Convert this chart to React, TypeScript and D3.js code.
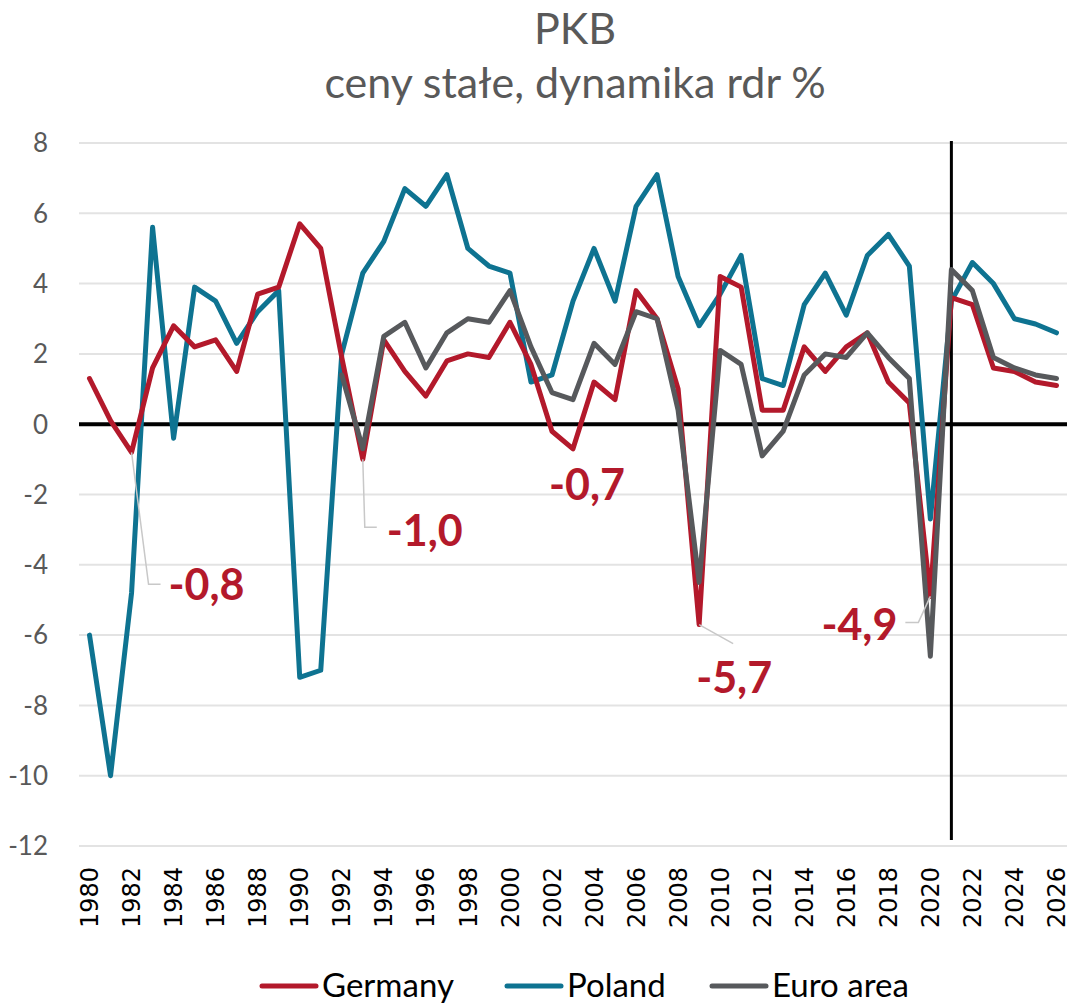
import React from "react";
import * as d3 from "d3";

const years: number[] = d3.range(1980, 2027);

const germany: number[] = [
  1.3, 0.1, -0.8, 1.6, 2.8, 2.2, 2.4, 1.5, 3.7, 3.9,
  5.7, 5.0, 1.9, -1.0, 2.4, 1.5, 0.8, 1.8, 2.0, 1.9,
  2.9, 1.7, -0.2, -0.7, 1.2, 0.7, 3.8, 3.0, 1.0, -5.7,
  4.2, 3.9, 0.4, 0.4, 2.2, 1.5, 2.2, 2.6, 1.2, 0.6,
  -4.9, 3.6, 3.4, 1.6, 1.5, 1.2, 1.1,
];

const poland: number[] = [
  -6.0, -10.0, -4.8, 5.6, -0.4, 3.9, 3.5, 2.3, 3.2, 3.8,
  -7.2, -7.0, 2.0, 4.3, 5.2, 6.7, 6.2, 7.1, 5.0, 4.5,
  4.3, 1.2, 1.4, 3.5, 5.0, 3.5, 6.2, 7.1, 4.2, 2.8,
  3.7, 4.8, 1.3, 1.1, 3.4, 4.3, 3.1, 4.8, 5.4, 4.5,
  -2.7, 3.5, 4.6, 4.0, 3.0, 2.85, 2.6,
];

// Euro area starts in 1992
const euroYears: number[] = d3.range(1992, 2027);
const euroArea: number[] = [
  1.4, -0.7, 2.5, 2.9, 1.6, 2.6, 3.0, 2.9, 3.8, 2.2,
  0.9, 0.7, 2.3, 1.7, 3.2, 3.0, 0.4, -4.5, 2.1, 1.7,
  -0.9, -0.2, 1.4, 2.0, 1.9, 2.6, 1.9, 1.3, -6.6, 4.4,
  3.8, 1.9, 1.6, 1.4, 1.3,
];

const yTicks: number[] = [8, 6, 4, 2, 0, -2, -4, -6, -8, -10, -12];
const xTickYears: number[] = d3.range(1980, 2027, 2);

const annotatedYears: number[] = [1982, 1993, 2003, 2009, 2020];
const annotationLabels: string[] = ["-0,8", "-1,0", "-0,7", "-5,7", "-4,9"];

const seriesNames: string[] = ["Germany", "Poland", "Euro area"];
const seriesColors: string[] = ["#B3192B", "#0E7391", "#57595C"];

const W = 1071;
const H = 1004;
const plotLeft = 79;
const plotRight = 1067;
const forecastStartYear = 2021;

export default function App() {
  const x = d3.scaleLinear().domain([1979.5, 2026.5]).range([plotLeft, plotRight]);
  const y = d3.scaleLinear().domain([-12, 8]).range([846, 143]);

  const line = d3
    .line<[number, number]>()
    .x((d) => x(d[0]))
    .y((d) => y(d[1]));

  const gData: [number, number][] = years.map((yr, i) => [yr, germany[i]]);
  const pData: [number, number][] = years.map((yr, i) => [yr, poland[i]]);
  const eData: [number, number][] = euroYears.map((yr, i) => [yr, euroArea[i]]);

  const gval = (yr: number) => germany[years.indexOf(yr)];

  // label placements: relative offsets from data point (layout only)
  const annot = [
    { dx: 37, dy: 148, leader: (px: number, py: number) => `M${px},${py} L${px + 17},${py + 132} L${px + 29},${py + 132}`, anchor: "start" },
    { dx: 24, dy: 87, leader: (px: number, py: number) => `M${px},${py} L${px + 2},${py + 68} L${px + 14},${py + 68}`, anchor: "start" },
    { dx: 52, dy: 51, leader: null, anchor: "end" },
    { dx: -3, dy: 68, leader: (px: number, py: number) => `M${px},${py} L${px + 34},${py + 19}`, anchor: "start" },
    { dx: -33, dy: 44, leader: (px: number, py: number) => `M${px},${py} L${px - 12},${py + 26} L${px - 25},${py + 26}`, anchor: "end" },
  ];

  const legendItems = [
    { lx: 262, tx: 322 },
    { lx: 507, tx: 567 },
    { lx: 712, tx: 772 },
  ];

  return (
    <svg width={W} height={H} style={{ display: "block", position: "absolute", left: 0, top: 0 }}>
      <rect width={W} height={H} fill="#ffffff" />
      {/* Title */}
      <text x={575} y={44} textAnchor="middle" fontFamily="Lato" fontSize={43} fill="#595959">
        PKB
      </text>
      <text x={575} y={98} textAnchor="middle" fontFamily="Lato" fontSize={43} fill="#595959">
        ceny stałe, dynamika rdr %
      </text>

      {/* Gridlines */}
      {yTicks.map((t) =>
        t === 0 ? null : (
          <line key={t} x1={plotLeft} x2={plotRight} y1={y(t)} y2={y(t)} stroke="#E3E3E3" strokeWidth={2} />
        )
      )}

      {/* Y tick labels */}
      {yTicks.map((t) => (
        <text key={t} x={48} y={y(t)} dy="0.36em" textAnchor="end" fontFamily="Lato" fontSize={26} fill="#595959">
          {t}
        </text>
      ))}

      {/* X tick labels */}
      {xTickYears.map((yr) => (
        <text
          key={yr}
          transform={`translate(${x(yr)},867) rotate(-90)`}
          dy="0.36em"
          textAnchor="end"
          fontFamily="DejaVu Sans"
          fontSize={24}
          fill="#000000"
        >
          {yr}
        </text>
      ))}

      {/* Zero line */}
      <line x1={plotLeft} x2={plotRight} y1={y(0)} y2={y(0)} stroke="#000" strokeWidth={4} />

      {/* Forecast divider */}
      <line x1={x(forecastStartYear)} x2={x(forecastStartYear)} y1={141} y2={840} stroke="#000" strokeWidth={3} />

      {/* Series */}
      <path d={line(pData) ?? ""} fill="none" stroke={seriesColors[1]} strokeWidth={5} strokeLinejoin="round" strokeLinecap="round" />
      <path d={line(gData) ?? ""} fill="none" stroke={seriesColors[0]} strokeWidth={5} strokeLinejoin="round" strokeLinecap="round" />
      <path d={line(eData) ?? ""} fill="none" stroke={seriesColors[2]} strokeWidth={5} strokeLinejoin="round" strokeLinecap="round" />

      {/* Annotations */}
      {annotatedYears.map((yr, i) => {
        const px = x(yr);
        const py = y(gval(yr));
        const a = annot[i];
        return (
          <g key={yr}>
            {a.leader && <path d={a.leader(px, py)} fill="none" stroke="#C8C8C8" strokeWidth={1.5} />}
            <text
              x={px + a.dx}
              y={py + a.dy}
              textAnchor={a.anchor as any}
              fontFamily="Lato"
              fontWeight="bold"
              fontSize={43}
              fill={seriesColors[0]}
            >
              {annotationLabels[i]}
            </text>
          </g>
        );
      })}

      {/* Legend */}
      {seriesNames.map((name, i) => (
        <g key={name}>
          <line x1={legendItems[i].lx} x2={legendItems[i].lx + 54} y1={986} y2={986} stroke={seriesColors[i]} strokeWidth={5} strokeLinecap="round" />
          <text x={legendItems[i].tx} y={997} fontFamily="Lato" fontSize={33} fill="#000">
            {name}
          </text>
        </g>
      ))}
    </svg>
  );
}
